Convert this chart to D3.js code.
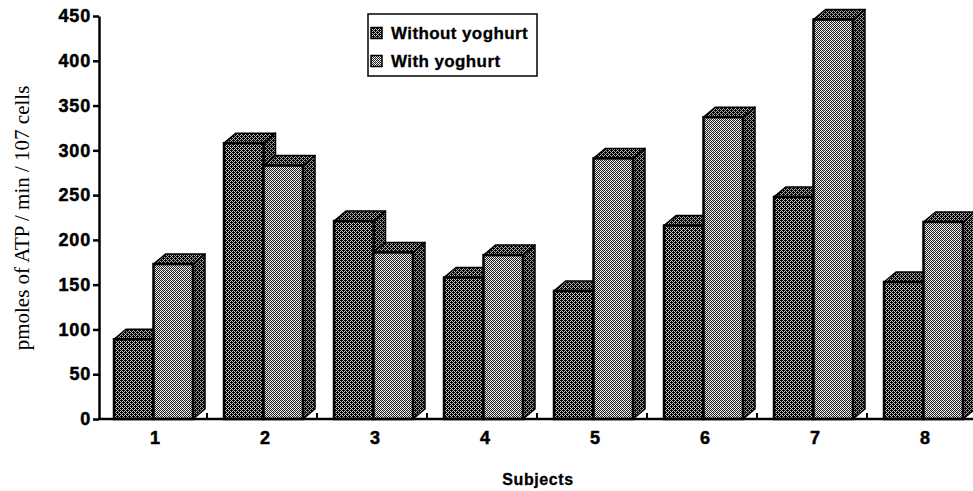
<!DOCTYPE html>
<html>
<head>
<meta charset="utf-8">
<script src="https://cdn.jsdelivr.net/npm/d3@7/dist/d3.min.js"></script>
<style>
  html, body { margin: 0; padding: 0; background: #fff; }
  svg { display: block; }
</style>
</head>
<body>
<svg id="chart" width="973" height="491"></svg>
<script>
// Subjects and ATP values (pmoles / min / 10^7 cells)
const subjects = ["1", "2", "3", "4", "5", "6", "7", "8"];
const withoutYoghurt = [89, 308, 221, 158, 143, 216, 248, 153];
const withYoghurt = [173, 283, 186, 183, 291, 337, 446, 220];
const yTicks = [0, 50, 100, 150, 200, 250, 300, 350, 400, 450];
const seriesNames = ["Without yoghurt", "With yoghurt"];

const svg = d3.select("#chart");
const margin = { left: 99, right: -6, top: 16, bottom: 72 };
const W = 973, H = 491;
const baseY = H - margin.bottom;
const sansBold = "'Liberation Sans', Arial, sans-serif";

const x = d3.scaleBand().domain(subjects).range([margin.left, W - margin.right]).paddingInner(0).paddingOuter(0);
const y = d3.scaleLinear().domain([0, 450]).range([baseY, margin.top]);

// Halftone-like fills built from pixel checkerboards
const defs = svg.append("defs");
function checker(id, a, b, c) {
  const p = defs.append("pattern").attr("id", id)
    .attr("patternUnits", "userSpaceOnUse").attr("width", 4).attr("height", 4);
  p.append("rect").attr("width", 4).attr("height", 4).attr("fill", b).attr("shape-rendering", "crispEdges");
  [[0, 0], [2, 0], [1, 1], [3, 1], [0, 2], [2, 2], [1, 3], [3, 3]].forEach(([px, py]) =>
    p.append("rect").attr("x", px).attr("y", py).attr("width", 1).attr("height", 1)
      .attr("fill", a).attr("shape-rendering", "crispEdges"));
  if (c) {
    [[1, 0], [3, 2]].forEach(([px, py]) =>
      p.append("rect").attr("x", px).attr("y", py).attr("width", 1).attr("height", 1)
        .attr("fill", c).attr("shape-rendering", "crispEdges"));
  }
}
checker("darkFront", "#000", "#c8c8c8", "#000");
checker("lightFront", "#222", "#ffffff", "#bbb");
checker("sideFace", "#000", "#a0a0a0", "#000");
checker("topFace", "#000", "#b0b0b0", "#000");

const dx = 12, dy = 10;             // oblique depth of each bar
const inset = 15;                   // gap from band start to first bar
const barW = 39.5;

function drawBar(g, x0, v, frontFill) {
  const top = y(v), w = barW;
  // side face
  g.append("path")
    .attr("d", `M${x0 + w},${top} L${x0 + w + dx},${top - dy} L${x0 + w + dx},${baseY - dy} L${x0 + w},${baseY} Z`)
    .attr("fill", "url(#sideFace)").attr("stroke", "#000").attr("stroke-width", 1.5).attr("stroke-linejoin", "round");
  // top face
  g.append("path")
    .attr("d", `M${x0},${top} L${x0 + dx},${top - dy} L${x0 + w + dx},${top - dy} L${x0 + w},${top} Z`)
    .attr("fill", "url(#topFace)").attr("stroke", "#000").attr("stroke-width", 1.5).attr("stroke-linejoin", "round");
  // front face
  g.append("rect")
    .attr("x", x0).attr("y", top).attr("width", w).attr("height", baseY - top)
    .attr("fill", frontFill).attr("stroke", "#000").attr("stroke-width", 2.5);
}

const bars = svg.append("g");
subjects.forEach((s, i) => {
  const g = bars.append("g");
  const x0 = x(s) + inset;
  drawBar(g, x0, withoutYoghurt[i], "url(#darkFront)");
  drawBar(g, x0 + barW, withYoghurt[i], "url(#lightFront)");
});

// Y axis
const yAxis = svg.append("g")
  .attr("transform", `translate(${margin.left},0)`)
  .call(d3.axisLeft(y).tickValues(yTicks).tickSize(6).tickPadding(2).tickSizeOuter(0));
yAxis.select(".domain").attr("stroke-width", 2.5);
yAxis.selectAll(".tick line").attr("stroke-width", 2.5);
yAxis.selectAll("text")
  .attr("font-family", sansBold).attr("font-weight", "bold").attr("font-size", 18)
  .attr("letter-spacing", 0.8).attr("fill", "#000")
  .attr("stroke", "#000").attr("stroke-width", 0.5);

// X axis with small inward ticks at category boundaries
const xAxis = svg.append("g").attr("transform", `translate(0,${baseY})`);
xAxis.append("line").attr("x1", margin.left - 1).attr("x2", W).attr("y1", 0).attr("y2", 0)
  .attr("stroke", "#000").attr("stroke-width", 2.5);
xAxis.selectAll(".bnd").data(subjects.slice(1)).enter().append("line")
  .attr("x1", d => x(d) - 2).attr("x2", d => x(d) - 2).attr("y1", 0).attr("y2", -6)
  .attr("stroke", "#000").attr("stroke-width", 2);
xAxis.selectAll(".lbl").data(subjects).enter().append("text")
  .attr("x", d => x(d) + x.bandwidth() / 2 + 1).attr("y", 25)
  .attr("text-anchor", "middle")
  .attr("font-family", sansBold).attr("font-weight", "bold").attr("font-size", 18)
  .attr("stroke", "#000").attr("stroke-width", 0.5).text(d => d);

// Axis titles
svg.append("text")
  .attr("x", 538).attr("y", 485).attr("text-anchor", "middle")
  .attr("font-family", sansBold).attr("font-weight", "bold").attr("font-size", 16)
  .attr("letter-spacing", 0.6).attr("stroke", "#000").attr("stroke-width", 0.3).text("Subjects");

svg.append("text")
  .attr("transform", "translate(29,218) rotate(-90)")
  .attr("text-anchor", "middle")
  .attr("font-family", "'Liberation Serif', 'Times New Roman', serif")
  .attr("font-size", 21).text("pmoles of ATP / min / 107 cells");

// Legend
const legend = svg.append("g");
legend.append("rect").attr("x", 368).attr("y", 14).attr("width", 169).attr("height", 62)
  .attr("fill", "#fff").attr("stroke", "#000").attr("stroke-width", 1.5);
const swatchFill = ["url(#darkFront)", "url(#lightFront)"];
seriesNames.forEach((n, i) => {
  const cy = 33 + i * 28;
  legend.append("rect").attr("x", 371).attr("y", cy - 5.5).attr("width", 11).attr("height", 11)
    .attr("fill", swatchFill[i]).attr("stroke", "#000").attr("stroke-width", 1.5);
  legend.append("text").attr("x", 391).attr("y", cy + 6)
    .attr("font-family", sansBold).attr("font-weight", "bold").attr("font-size", 17)
    .attr("letter-spacing", 0.4).attr("stroke", "#000").attr("stroke-width", 0.3).text(n);
});
</script>
</body>
</html>
